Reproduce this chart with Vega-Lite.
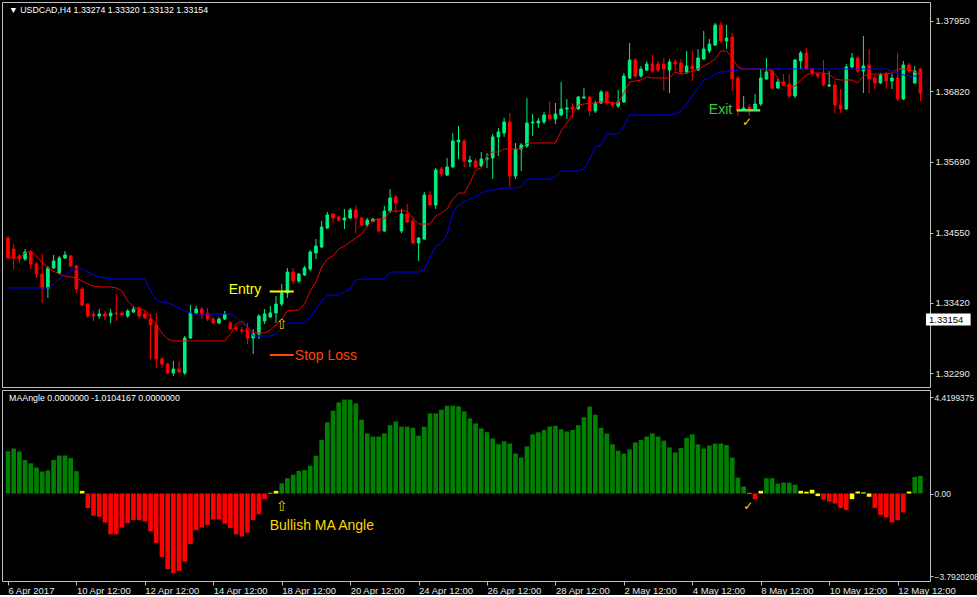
{
  "$schema": "https://vega.github.io/schema/vega-lite/v6.json",
  "background": "black",
  "padding": {"left": 1, "top": 1, "right": 0, "bottom": 0},
  "spacing": 1,
  "config": {
    "view": {"stroke": "#c0c0c0", "fill": "black"},
    "axis": {"labelFont": "Liberation Sans", "labelFontSize": 9.5, "labelColor": "#e8e8e8", "tickColor": "#c0c0c0", "domain": false, "grid": false, "title": null, "labelOverlap": false, "labelFlush": false}
  },
  "datasets": {
    "bars": [
      {"bar":0,"o":1.34464,"h":1.34496,"l":1.34126,"c":1.34143,"fast":1.34143,"slow":1.33661,"angle":1.93,"trend":"up"},
      {"bar":1,"o":1.34286,"h":1.34367,"l":1.33965,"c":1.34143,"fast":1.34143,"slow":1.33661,"angle":2.06,"trend":"up"},
      {"bar":2,"o":1.34175,"h":1.34207,"l":1.34062,"c":1.34126,"fast":1.34143,"slow":1.33661,"angle":1.93,"trend":"up"},
      {"bar":3,"o":1.34126,"h":1.34286,"l":1.34094,"c":1.34239,"fast":1.34223,"slow":1.33661,"angle":1.53,"trend":"up"},
      {"bar":4,"o":1.34239,"h":1.34270,"l":1.33965,"c":1.34046,"fast":1.34255,"slow":1.33661,"angle":1.38,"trend":"up"},
      {"bar":5,"o":1.34046,"h":1.34078,"l":1.33821,"c":1.33885,"fast":1.34175,"slow":1.33661,"angle":1.19,"trend":"up"},
      {"bar":6,"o":1.33885,"h":1.34207,"l":1.33419,"c":1.33661,"fast":1.34062,"slow":1.33661,"angle":1.01,"trend":"up"},
      {"bar":7,"o":1.33661,"h":1.34014,"l":1.33500,"c":1.33982,"fast":1.33982,"slow":1.33661,"angle":1.06,"trend":"up"},
      {"bar":8,"o":1.33982,"h":1.34191,"l":1.33965,"c":1.34094,"fast":1.33933,"slow":1.33725,"angle":1.53,"trend":"up"},
      {"bar":9,"o":1.33901,"h":1.34175,"l":1.33885,"c":1.34143,"fast":1.33885,"slow":1.33805,"angle":1.74,"trend":"up"},
      {"bar":10,"o":1.34143,"h":1.34255,"l":1.34126,"c":1.34191,"fast":1.33853,"slow":1.33869,"angle":1.74,"trend":"up"},
      {"bar":11,"o":1.34175,"h":1.34191,"l":1.33998,"c":1.34014,"fast":1.33837,"slow":1.33933,"angle":1.62,"trend":"up"},
      {"bar":12,"o":1.34014,"h":1.34030,"l":1.33580,"c":1.33644,"fast":1.33821,"slow":1.33965,"angle":1.02,"trend":"up"},
      {"bar":13,"o":1.33644,"h":1.33677,"l":1.33371,"c":1.33387,"fast":1.33773,"slow":1.33965,"angle":0.12,"trend":"flat"},
      {"bar":14,"o":1.33403,"h":1.33419,"l":1.33179,"c":1.33211,"fast":1.33725,"slow":1.33917,"angle":-0.67,"trend":"down"},
      {"bar":15,"o":1.33243,"h":1.33291,"l":1.33130,"c":1.33211,"fast":1.33693,"slow":1.33869,"angle":-1.02,"trend":"down"},
      {"bar":16,"o":1.33211,"h":1.33322,"l":1.33162,"c":1.33243,"fast":1.33677,"slow":1.33837,"angle":-1.07,"trend":"down"},
      {"bar":17,"o":1.33243,"h":1.33291,"l":1.33146,"c":1.33211,"fast":1.33677,"slow":1.33821,"angle":-1.33,"trend":"down"},
      {"bar":18,"o":1.33211,"h":1.33322,"l":1.33098,"c":1.33259,"fast":1.33677,"slow":1.33805,"angle":-1.87,"trend":"down"},
      {"bar":19,"o":1.33259,"h":1.33564,"l":1.33130,"c":1.33243,"fast":1.33661,"slow":1.33805,"angle":-1.87,"trend":"down"},
      {"bar":20,"o":1.33259,"h":1.33291,"l":1.33211,"c":1.33227,"fast":1.33612,"slow":1.33805,"angle":-1.56,"trend":"down"},
      {"bar":21,"o":1.33211,"h":1.33322,"l":1.33179,"c":1.33291,"fast":1.33451,"slow":1.33805,"angle":-1.36,"trend":"down"},
      {"bar":22,"o":1.33275,"h":1.33371,"l":1.33259,"c":1.33322,"fast":1.33355,"slow":1.33805,"angle":-1.22,"trend":"down"},
      {"bar":23,"o":1.33339,"h":1.33371,"l":1.33162,"c":1.33211,"fast":1.33322,"slow":1.33805,"angle":-1.22,"trend":"down"},
      {"bar":24,"o":1.33243,"h":1.33291,"l":1.33162,"c":1.33179,"fast":1.33306,"slow":1.33805,"angle":-1.28,"trend":"down"},
      {"bar":25,"o":1.33162,"h":1.33243,"l":1.32519,"c":1.33066,"fast":1.33195,"slow":1.33612,"angle":-1.74,"trend":"down"},
      {"bar":26,"o":1.33066,"h":1.33259,"l":1.32375,"c":1.32519,"fast":1.33066,"slow":1.33467,"angle":-2.26,"trend":"down"},
      {"bar":27,"o":1.32519,"h":1.32552,"l":1.32375,"c":1.32439,"fast":1.32937,"slow":1.33435,"angle":-2.91,"trend":"down"},
      {"bar":28,"o":1.32439,"h":1.32455,"l":1.32279,"c":1.32295,"fast":1.32841,"slow":1.33419,"angle":-3.47,"trend":"down"},
      {"bar":29,"o":1.32295,"h":1.32487,"l":1.32247,"c":1.32358,"fast":1.32809,"slow":1.33387,"angle":-3.65,"trend":"down"},
      {"bar":30,"o":1.32358,"h":1.32487,"l":1.32295,"c":1.32311,"fast":1.32809,"slow":1.33339,"angle":-3.55,"trend":"down"},
      {"bar":31,"o":1.32295,"h":1.32889,"l":1.32263,"c":1.32857,"fast":1.32809,"slow":1.33291,"angle":-3.12,"trend":"down"},
      {"bar":32,"o":1.32857,"h":1.33387,"l":1.32841,"c":1.33259,"fast":1.32809,"slow":1.33259,"angle":-2.32,"trend":"down"},
      {"bar":33,"o":1.33259,"h":1.33371,"l":1.33243,"c":1.33322,"fast":1.32809,"slow":1.33243,"angle":-1.68,"trend":"down"},
      {"bar":34,"o":1.33322,"h":1.33355,"l":1.33162,"c":1.33243,"fast":1.32809,"slow":1.33243,"angle":-1.56,"trend":"down"},
      {"bar":35,"o":1.33259,"h":1.33339,"l":1.33130,"c":1.33162,"fast":1.32809,"slow":1.33243,"angle":-1.44,"trend":"down"},
      {"bar":36,"o":1.33162,"h":1.33195,"l":1.33082,"c":1.33098,"fast":1.32809,"slow":1.33243,"angle":-1.19,"trend":"down"},
      {"bar":37,"o":1.33098,"h":1.33195,"l":1.33082,"c":1.33162,"fast":1.32809,"slow":1.33243,"angle":-1.19,"trend":"down"},
      {"bar":38,"o":1.33162,"h":1.33291,"l":1.33146,"c":1.33243,"fast":1.32809,"slow":1.33243,"angle":-1.38,"trend":"down"},
      {"bar":39,"o":1.33098,"h":1.33130,"l":1.32985,"c":1.33001,"fast":1.32921,"slow":1.33243,"angle":-1.59,"trend":"down"},
      {"bar":40,"o":1.33018,"h":1.33050,"l":1.32969,"c":1.33001,"fast":1.33082,"slow":1.33195,"angle":-1.87,"trend":"down"},
      {"bar":41,"o":1.32985,"h":1.33034,"l":1.32921,"c":1.32969,"fast":1.33130,"slow":1.33098,"angle":-1.97,"trend":"down"},
      {"bar":42,"o":1.33018,"h":1.33098,"l":1.32761,"c":1.32857,"fast":1.33034,"slow":1.33018,"angle":-1.79,"trend":"down"},
      {"bar":43,"o":1.32857,"h":1.33001,"l":1.32600,"c":1.32921,"fast":1.32937,"slow":1.32889,"angle":-1.22,"trend":"down"},
      {"bar":44,"o":1.32921,"h":1.33243,"l":1.32841,"c":1.33211,"fast":1.32937,"slow":1.32889,"angle":-0.95,"trend":"down"},
      {"bar":45,"o":1.33130,"h":1.33322,"l":1.33082,"c":1.33243,"fast":1.32937,"slow":1.32889,"angle":-0.26,"trend":"down"},
      {"bar":46,"o":1.33195,"h":1.33371,"l":1.33179,"c":1.33259,"fast":1.32985,"slow":1.32889,"angle":0.03,"trend":"flat"},
      {"bar":47,"o":1.33259,"h":1.33532,"l":1.33098,"c":1.33403,"fast":1.33066,"slow":1.32921,"angle":0.12,"trend":"flat"},
      {"bar":48,"o":1.33403,"h":1.33725,"l":1.33371,"c":1.33580,"fast":1.33162,"slow":1.33018,"angle":0.47,"trend":"up"},
      {"bar":49,"o":1.33580,"h":1.33982,"l":1.33500,"c":1.33917,"fast":1.33291,"slow":1.33098,"angle":0.70,"trend":"up"},
      {"bar":50,"o":1.33917,"h":1.33982,"l":1.33725,"c":1.33773,"fast":1.33306,"slow":1.33098,"angle":0.86,"trend":"up"},
      {"bar":51,"o":1.33773,"h":1.33901,"l":1.33741,"c":1.33885,"fast":1.33306,"slow":1.33098,"angle":1.04,"trend":"up"},
      {"bar":52,"o":1.33869,"h":1.34014,"l":1.33853,"c":1.33982,"fast":1.33403,"slow":1.33098,"angle":1.07,"trend":"up"},
      {"bar":53,"o":1.33965,"h":1.34270,"l":1.33933,"c":1.34239,"fast":1.33612,"slow":1.33195,"angle":1.27,"trend":"up"},
      {"bar":54,"o":1.34223,"h":1.34447,"l":1.34126,"c":1.34335,"fast":1.33757,"slow":1.33322,"angle":1.73,"trend":"up"},
      {"bar":55,"o":1.34319,"h":1.34736,"l":1.34303,"c":1.34640,"fast":1.33998,"slow":1.33451,"angle":2.45,"trend":"up"},
      {"bar":56,"o":1.34624,"h":1.34881,"l":1.34608,"c":1.34833,"fast":1.34126,"slow":1.33548,"angle":3.26,"trend":"up"},
      {"bar":57,"o":1.34849,"h":1.34865,"l":1.34704,"c":1.34785,"fast":1.34175,"slow":1.33548,"angle":3.79,"trend":"up"},
      {"bar":58,"o":1.34801,"h":1.34817,"l":1.34720,"c":1.34752,"fast":1.34286,"slow":1.33548,"angle":4.17,"trend":"up"},
      {"bar":59,"o":1.34752,"h":1.34929,"l":1.34608,"c":1.34785,"fast":1.34335,"slow":1.33596,"angle":4.30,"trend":"up"},
      {"bar":60,"o":1.34785,"h":1.34946,"l":1.34768,"c":1.34913,"fast":1.34399,"slow":1.33644,"angle":4.30,"trend":"up"},
      {"bar":61,"o":1.34913,"h":1.34994,"l":1.34544,"c":1.34785,"fast":1.34463,"slow":1.33789,"angle":4.13,"trend":"up"},
      {"bar":62,"o":1.34785,"h":1.34801,"l":1.34640,"c":1.34672,"fast":1.34528,"slow":1.33805,"angle":3.38,"trend":"up"},
      {"bar":63,"o":1.34672,"h":1.34785,"l":1.34640,"c":1.34752,"fast":1.34656,"slow":1.33805,"angle":2.75,"trend":"up"},
      {"bar":64,"o":1.34736,"h":1.34785,"l":1.34720,"c":1.34768,"fast":1.34752,"slow":1.33805,"angle":2.61,"trend":"up"},
      {"bar":65,"o":1.34768,"h":1.34785,"l":1.34560,"c":1.34576,"fast":1.34768,"slow":1.33805,"angle":2.61,"trend":"up"},
      {"bar":66,"o":1.34576,"h":1.34978,"l":1.34560,"c":1.34897,"fast":1.34768,"slow":1.33805,"angle":2.75,"trend":"up"},
      {"bar":67,"o":1.34897,"h":1.35250,"l":1.34865,"c":1.35106,"fast":1.34897,"slow":1.33917,"angle":3.13,"trend":"up"},
      {"bar":68,"o":1.35122,"h":1.35154,"l":1.34865,"c":1.35026,"fast":1.34897,"slow":1.33917,"angle":3.30,"trend":"up"},
      {"bar":69,"o":1.34576,"h":1.34929,"l":1.34544,"c":1.34849,"fast":1.34897,"slow":1.33917,"angle":3.06,"trend":"up"},
      {"bar":70,"o":1.34849,"h":1.35010,"l":1.34704,"c":1.34720,"fast":1.34897,"slow":1.33917,"angle":3.06,"trend":"up"},
      {"bar":71,"o":1.34736,"h":1.34785,"l":1.34367,"c":1.34383,"fast":1.34785,"slow":1.33917,"angle":3.01,"trend":"up"},
      {"bar":72,"o":1.34383,"h":1.34479,"l":1.34094,"c":1.34463,"fast":1.34688,"slow":1.33917,"angle":2.65,"trend":"up"},
      {"bar":73,"o":1.34447,"h":1.35202,"l":1.34431,"c":1.35154,"fast":1.34688,"slow":1.33949,"angle":3.06,"trend":"up"},
      {"bar":74,"o":1.35154,"h":1.35218,"l":1.34978,"c":1.34994,"fast":1.34688,"slow":1.34159,"angle":3.67,"trend":"up"},
      {"bar":75,"o":1.34994,"h":1.35589,"l":1.34929,"c":1.35556,"fast":1.34817,"slow":1.34335,"angle":3.67,"trend":"up"},
      {"bar":76,"o":1.35572,"h":1.35605,"l":1.35444,"c":1.35492,"fast":1.34865,"slow":1.34383,"angle":3.84,"trend":"up"},
      {"bar":77,"o":1.35476,"h":1.35749,"l":1.35460,"c":1.35605,"fast":1.34929,"slow":1.34528,"angle":4.02,"trend":"up"},
      {"bar":78,"o":1.35605,"h":1.36151,"l":1.35589,"c":1.36022,"fast":1.35090,"slow":1.34865,"angle":4.02,"trend":"up"},
      {"bar":79,"o":1.36006,"h":1.36263,"l":1.35732,"c":1.36038,"fast":1.35186,"slow":1.34994,"angle":3.99,"trend":"up"},
      {"bar":80,"o":1.36022,"h":1.36054,"l":1.35605,"c":1.35701,"fast":1.35186,"slow":1.35042,"angle":3.76,"trend":"up"},
      {"bar":81,"o":1.35685,"h":1.35781,"l":1.35605,"c":1.35716,"fast":1.35347,"slow":1.35090,"angle":3.44,"trend":"up"},
      {"bar":82,"o":1.35701,"h":1.35749,"l":1.35589,"c":1.35605,"fast":1.35556,"slow":1.35122,"angle":3.21,"trend":"up"},
      {"bar":83,"o":1.35621,"h":1.35845,"l":1.35605,"c":1.35732,"fast":1.35589,"slow":1.35186,"angle":2.98,"trend":"up"},
      {"bar":84,"o":1.35732,"h":1.35829,"l":1.35589,"c":1.35749,"fast":1.35765,"slow":1.35218,"angle":2.81,"trend":"up"},
      {"bar":85,"o":1.35749,"h":1.36135,"l":1.35411,"c":1.36087,"fast":1.35845,"slow":1.35234,"angle":2.52,"trend":"up"},
      {"bar":86,"o":1.36087,"h":1.36231,"l":1.35781,"c":1.36167,"fast":1.35845,"slow":1.35250,"angle":2.26,"trend":"up"},
      {"bar":87,"o":1.36151,"h":1.36392,"l":1.36087,"c":1.36327,"fast":1.35893,"slow":1.35266,"angle":2.39,"trend":"up"},
      {"bar":88,"o":1.36327,"h":1.36472,"l":1.35283,"c":1.35460,"fast":1.35893,"slow":1.35266,"angle":2.29,"trend":"up"},
      {"bar":89,"o":1.35460,"h":1.35990,"l":1.35411,"c":1.35893,"fast":1.35893,"slow":1.35266,"angle":1.83,"trend":"up"},
      {"bar":90,"o":1.35893,"h":1.35990,"l":1.35540,"c":1.35958,"fast":1.35893,"slow":1.35283,"angle":1.65,"trend":"up"},
      {"bar":91,"o":1.35942,"h":1.36713,"l":1.35910,"c":1.36311,"fast":1.35990,"slow":1.35411,"angle":2.16,"trend":"up"},
      {"bar":92,"o":1.36311,"h":1.36456,"l":1.36103,"c":1.36327,"fast":1.35990,"slow":1.35411,"angle":2.71,"trend":"up"},
      {"bar":93,"o":1.36311,"h":1.36392,"l":1.36231,"c":1.36343,"fast":1.35990,"slow":1.35411,"angle":2.80,"trend":"up"},
      {"bar":94,"o":1.36327,"h":1.36488,"l":1.36295,"c":1.36440,"fast":1.35990,"slow":1.35411,"angle":2.91,"trend":"up"},
      {"bar":95,"o":1.36440,"h":1.36664,"l":1.36375,"c":1.36375,"fast":1.35990,"slow":1.35411,"angle":3.07,"trend":"up"},
      {"bar":96,"o":1.36375,"h":1.36632,"l":1.36295,"c":1.36456,"fast":1.35990,"slow":1.35443,"angle":3.10,"trend":"up"},
      {"bar":97,"o":1.36440,"h":1.36970,"l":1.36424,"c":1.36536,"fast":1.36183,"slow":1.35540,"angle":2.94,"trend":"up"},
      {"bar":98,"o":1.36536,"h":1.36696,"l":1.36375,"c":1.36552,"fast":1.36311,"slow":1.35540,"angle":2.84,"trend":"up"},
      {"bar":99,"o":1.36568,"h":1.36632,"l":1.36392,"c":1.36536,"fast":1.36456,"slow":1.35540,"angle":2.91,"trend":"up"},
      {"bar":100,"o":1.36536,"h":1.36745,"l":1.36520,"c":1.36729,"fast":1.36600,"slow":1.35540,"angle":3.13,"trend":"up"},
      {"bar":101,"o":1.36713,"h":1.36873,"l":1.36697,"c":1.36729,"fast":1.36616,"slow":1.35572,"angle":3.49,"trend":"up"},
      {"bar":102,"o":1.36729,"h":1.36745,"l":1.36424,"c":1.36504,"fast":1.36632,"slow":1.35732,"angle":3.98,"trend":"up"},
      {"bar":103,"o":1.36504,"h":1.36664,"l":1.36472,"c":1.36632,"fast":1.36632,"slow":1.35925,"angle":3.61,"trend":"up"},
      {"bar":104,"o":1.36632,"h":1.36841,"l":1.36616,"c":1.36809,"fast":1.36648,"slow":1.35958,"angle":3.01,"trend":"up"},
      {"bar":105,"o":1.36809,"h":1.36825,"l":1.36600,"c":1.36632,"fast":1.36648,"slow":1.36135,"angle":2.75,"trend":"up"},
      {"bar":106,"o":1.36632,"h":1.36664,"l":1.36568,"c":1.36600,"fast":1.36632,"slow":1.36135,"angle":2.25,"trend":"up"},
      {"bar":107,"o":1.36584,"h":1.36841,"l":1.36552,"c":1.36648,"fast":1.36632,"slow":1.36135,"angle":1.96,"trend":"up"},
      {"bar":108,"o":1.36648,"h":1.37114,"l":1.36632,"c":1.37066,"fast":1.36793,"slow":1.36247,"angle":1.83,"trend":"up"},
      {"bar":109,"o":1.37034,"h":1.37596,"l":1.37018,"c":1.37323,"fast":1.36970,"slow":1.36440,"angle":2.02,"trend":"up"},
      {"bar":110,"o":1.37323,"h":1.37355,"l":1.37034,"c":1.37066,"fast":1.36986,"slow":1.36440,"angle":2.34,"trend":"up"},
      {"bar":111,"o":1.37066,"h":1.37227,"l":1.37034,"c":1.37178,"fast":1.37002,"slow":1.36440,"angle":2.45,"trend":"up"},
      {"bar":112,"o":1.37162,"h":1.37307,"l":1.37146,"c":1.37259,"fast":1.37050,"slow":1.36440,"angle":2.61,"trend":"up"},
      {"bar":113,"o":1.37259,"h":1.37404,"l":1.37114,"c":1.37146,"fast":1.37034,"slow":1.36440,"angle":2.75,"trend":"up"},
      {"bar":114,"o":1.37259,"h":1.37307,"l":1.37130,"c":1.37162,"fast":1.37034,"slow":1.36440,"angle":2.61,"trend":"up"},
      {"bar":115,"o":1.37259,"h":1.37355,"l":1.36825,"c":1.37178,"fast":1.37034,"slow":1.36440,"angle":2.42,"trend":"up"},
      {"bar":116,"o":1.37162,"h":1.37339,"l":1.36793,"c":1.37291,"fast":1.37034,"slow":1.36440,"angle":2.11,"trend":"up"},
      {"bar":117,"o":1.37291,"h":1.37339,"l":1.37146,"c":1.37259,"fast":1.37130,"slow":1.36456,"angle":1.88,"trend":"up"},
      {"bar":118,"o":1.37275,"h":1.37339,"l":1.37098,"c":1.37130,"fast":1.37098,"slow":1.36504,"angle":2.08,"trend":"up"},
      {"bar":119,"o":1.37130,"h":1.37468,"l":1.37098,"c":1.37227,"fast":1.37114,"slow":1.36616,"angle":2.55,"trend":"up"},
      {"bar":120,"o":1.37227,"h":1.37468,"l":1.36986,"c":1.37178,"fast":1.37146,"slow":1.36745,"angle":2.71,"trend":"up"},
      {"bar":121,"o":1.37162,"h":1.37500,"l":1.37146,"c":1.37355,"fast":1.37178,"slow":1.36873,"angle":2.25,"trend":"up"},
      {"bar":122,"o":1.37339,"h":1.37789,"l":1.37323,"c":1.37500,"fast":1.37227,"slow":1.37002,"angle":2.06,"trend":"up"},
      {"bar":123,"o":1.37468,"h":1.37660,"l":1.37436,"c":1.37580,"fast":1.37275,"slow":1.37034,"angle":2.20,"trend":"up"},
      {"bar":124,"o":1.37564,"h":1.37918,"l":1.37548,"c":1.37886,"fast":1.37339,"slow":1.37098,"angle":2.29,"trend":"up"},
      {"bar":125,"o":1.37886,"h":1.37934,"l":1.37596,"c":1.37628,"fast":1.37468,"slow":1.37130,"angle":2.29,"trend":"up"},
      {"bar":126,"o":1.37628,"h":1.37886,"l":1.37500,"c":1.37677,"fast":1.37468,"slow":1.37146,"angle":2.22,"trend":"up"},
      {"bar":127,"o":1.37693,"h":1.37757,"l":1.36825,"c":1.37018,"fast":1.37355,"slow":1.37146,"angle":1.65,"trend":"up"},
      {"bar":128,"o":1.37034,"h":1.37066,"l":1.36424,"c":1.36504,"fast":1.37211,"slow":1.37162,"angle":0.73,"trend":"up"},
      {"bar":129,"o":1.36520,"h":1.36745,"l":1.36504,"c":1.36552,"fast":1.37178,"slow":1.37178,"angle":0.32,"trend":"up"},
      {"bar":130,"o":1.36568,"h":1.36616,"l":1.36424,"c":1.36536,"fast":1.37178,"slow":1.37178,"angle":0.03,"trend":"flat"},
      {"bar":131,"o":1.36536,"h":1.36777,"l":1.36520,"c":1.36616,"fast":1.37178,"slow":1.37178,"angle":-0.26,"trend":"down"},
      {"bar":132,"o":1.36616,"h":1.37194,"l":1.36584,"c":1.37034,"fast":1.37178,"slow":1.37178,"angle":0.12,"trend":"flat"},
      {"bar":133,"o":1.37018,"h":1.37355,"l":1.37002,"c":1.37130,"fast":1.37162,"slow":1.37178,"angle":0.70,"trend":"up"},
      {"bar":134,"o":1.37146,"h":1.37178,"l":1.36857,"c":1.36873,"fast":1.37146,"slow":1.37178,"angle":0.70,"trend":"up"},
      {"bar":135,"o":1.36873,"h":1.37018,"l":1.36857,"c":1.36970,"fast":1.37034,"slow":1.37178,"angle":0.46,"trend":"up"},
      {"bar":136,"o":1.36970,"h":1.37098,"l":1.36905,"c":1.36922,"fast":1.36905,"slow":1.37178,"angle":0.50,"trend":"up"},
      {"bar":137,"o":1.36938,"h":1.37098,"l":1.36713,"c":1.36745,"fast":1.36905,"slow":1.37178,"angle":0.50,"trend":"up"},
      {"bar":138,"o":1.36745,"h":1.37339,"l":1.36713,"c":1.37323,"fast":1.36905,"slow":1.37178,"angle":0.40,"trend":"up"},
      {"bar":139,"o":1.37307,"h":1.37468,"l":1.37178,"c":1.37436,"fast":1.37002,"slow":1.37178,"angle":0.12,"trend":"flat"},
      {"bar":140,"o":1.37436,"h":1.37516,"l":1.37162,"c":1.37178,"fast":1.37082,"slow":1.37178,"angle":0.08,"trend":"flat"},
      {"bar":141,"o":1.37178,"h":1.37194,"l":1.37066,"c":1.37114,"fast":1.37114,"slow":1.37178,"angle":0.17,"trend":"flat"},
      {"bar":142,"o":1.37098,"h":1.37114,"l":1.37018,"c":1.37066,"fast":1.37114,"slow":1.37178,"angle":-0.12,"trend":"flat"},
      {"bar":143,"o":1.37098,"h":1.37323,"l":1.36905,"c":1.36922,"fast":1.37114,"slow":1.37178,"angle":-0.28,"trend":"down"},
      {"bar":144,"o":1.36905,"h":1.37146,"l":1.36890,"c":1.36922,"fast":1.37098,"slow":1.37178,"angle":-0.37,"trend":"down"},
      {"bar":145,"o":1.36922,"h":1.36986,"l":1.36472,"c":1.36600,"fast":1.37018,"slow":1.37178,"angle":-0.46,"trend":"down"},
      {"bar":146,"o":1.36600,"h":1.36857,"l":1.36472,"c":1.36536,"fast":1.37002,"slow":1.37178,"angle":-0.67,"trend":"down"},
      {"bar":147,"o":1.36536,"h":1.37259,"l":1.36520,"c":1.37211,"fast":1.37002,"slow":1.37178,"angle":-0.76,"trend":"down"},
      {"bar":148,"o":1.37211,"h":1.37436,"l":1.37194,"c":1.37355,"fast":1.37002,"slow":1.37178,"angle":-0.26,"trend":"flat"},
      {"bar":149,"o":1.37355,"h":1.37388,"l":1.37114,"c":1.37146,"fast":1.36954,"slow":1.37178,"angle":0.09,"trend":"flat"},
      {"bar":150,"o":1.37146,"h":1.37709,"l":1.36793,"c":1.37227,"fast":1.37066,"slow":1.37178,"angle":0.05,"trend":"flat"},
      {"bar":151,"o":1.37243,"h":1.37500,"l":1.36793,"c":1.37018,"fast":1.37098,"slow":1.37178,"angle":-0.15,"trend":"flat"},
      {"bar":152,"o":1.37034,"h":1.37082,"l":1.36857,"c":1.36954,"fast":1.37098,"slow":1.37178,"angle":-0.67,"trend":"down"},
      {"bar":153,"o":1.36954,"h":1.37114,"l":1.36938,"c":1.37082,"fast":1.37098,"slow":1.37178,"angle":-0.98,"trend":"down"},
      {"bar":154,"o":1.37098,"h":1.37130,"l":1.36857,"c":1.36986,"fast":1.37098,"slow":1.37178,"angle":-1.10,"trend":"down"},
      {"bar":155,"o":1.36986,"h":1.37098,"l":1.36857,"c":1.37034,"fast":1.37114,"slow":1.37146,"angle":-1.33,"trend":"down"},
      {"bar":156,"o":1.37034,"h":1.37436,"l":1.36664,"c":1.36697,"fast":1.37178,"slow":1.37114,"angle":-1.22,"trend":"down"},
      {"bar":157,"o":1.36697,"h":1.37307,"l":1.36680,"c":1.37243,"fast":1.37178,"slow":1.37082,"angle":-0.87,"trend":"down"},
      {"bar":158,"o":1.37243,"h":1.37275,"l":1.37114,"c":1.37146,"fast":1.37178,"slow":1.37066,"angle":0.09,"trend":"flat"},
      {"bar":159,"o":1.36954,"h":1.37227,"l":1.36938,"c":1.37146,"fast":1.37130,"slow":1.37066,"angle":0.76,"trend":"up"},
      {"bar":160,"o":1.37178,"h":1.37194,"l":1.36664,"c":1.36793,"fast":1.37082,"slow":1.37066,"angle":0.81,"trend":"up"}
    ]
  },
  "vconcat": [
    {
      "width": 928,
      "height": 385,
      "layer": [
        {
          "data": {"name": "bars"},
          "mark": {"type": "rule", "strokeWidth": 1},
          "encoding": {
            "x": {"field": "bar", "type": "quantitative", "scale": {"domain": [-0.17, 160.8], "nice": false, "zero": false}, "axis": null},
            "y": {"field": "l", "type": "quantitative", "scale": {"domain": [1.3207, 1.38255], "nice": false, "zero": false},
                  "axis": {"orient": "right", "values": [1.3795, 1.3738, 1.3682, 1.3625, 1.3569, 1.3512, 1.3455, 1.3399, 1.3342, 1.3286, 1.3229], "format": ".5f", "tickSize": 3, "labelPadding": 2, "labelBaseline": "middle"}},
            "y2": {"field": "h"},
            "color": {"condition": {"test": "datum.c >= datum.o", "value": "#00f080"}, "value": "#ff0000"}
          }
        },
        {
          "data": {"name": "bars"},
          "mark": {"type": "bar", "width": 2.6, "strokeWidth": 1},
          "encoding": {
            "x": {"field": "bar", "type": "quantitative"},
            "y": {"field": "o", "type": "quantitative"},
            "y2": {"field": "c"},
            "color": {"condition": {"test": "datum.c >= datum.o", "value": "#00f080"}, "value": "#ff0000"},
            "stroke": {"condition": {"test": "datum.c >= datum.o", "value": "#00f080"}, "value": "#ff0000"}
          }
        },
        {
          "data": {"name": "bars"},
          "mark": {"type": "line", "color": "#ee0000", "strokeWidth": 1},
          "encoding": {
            "x": {"field": "bar", "type": "quantitative"},
            "y": {"field": "fast", "type": "quantitative"}
          }
        },
        {
          "data": {"name": "bars"},
          "mark": {"type": "line", "color": "#0000ff", "strokeWidth": 1},
          "encoding": {
            "x": {"field": "bar", "type": "quantitative"},
            "y": {"field": "slow", "type": "quantitative"}
          }
        },
        {
          "data": {"values": [{"from": 45.9, "to": 50.1, "price": 1.33604}]},
          "mark": {"type": "rule", "color": "#ffff00", "strokeWidth": 2},
          "encoding": {"x": {"field": "from", "type": "quantitative"}, "x2": {"field": "to"}, "y": {"field": "price", "type": "quantitative"}}
        },
        {
          "data": {"values": [{"from": 45.9, "to": 50.1, "price": 1.32584}]},
          "mark": {"type": "rule", "color": "#ff4500", "strokeWidth": 2},
          "encoding": {"x": {"field": "from", "type": "quantitative"}, "x2": {"field": "to"}, "y": {"field": "price", "type": "quantitative"}}
        },
        {
          "data": {"values": [{"from": 127.8, "to": 131.9, "price": 1.36515}]},
          "mark": {"type": "rule", "color": "#5ee05e", "strokeWidth": 2.5},
          "encoding": {"x": {"field": "from", "type": "quantitative"}, "x2": {"field": "to"}, "y": {"field": "price", "type": "quantitative"}}
        },
        {
          "data": {"values": [{"bar": 38.7, "price": 1.33628, "label": "Entry"}]},
          "mark": {"type": "text", "align": "left", "baseline": "middle", "font": "Liberation Sans", "fontSize": 14, "color": "#ffff00"},
          "encoding": {"x": {"field": "bar", "type": "quantitative"}, "y": {"field": "price", "type": "quantitative"}, "text": {"field": "label"}}
        },
        {
          "data": {"values": [{"bar": 50.3, "price": 1.32568, "label": "Stop Loss"}]},
          "mark": {"type": "text", "align": "left", "baseline": "middle", "font": "Liberation Sans", "fontSize": 14, "color": "#ff4500"},
          "encoding": {"x": {"field": "bar", "type": "quantitative"}, "y": {"field": "price", "type": "quantitative"}, "text": {"field": "label"}}
        },
        {
          "data": {"values": [{"bar": 122.9, "price": 1.36528, "label": "Exit"}]},
          "mark": {"type": "text", "align": "left", "baseline": "middle", "font": "Liberation Sans", "fontSize": 14, "color": "#3cc83c"},
          "encoding": {"x": {"field": "bar", "type": "quantitative"}, "y": {"field": "price", "type": "quantitative"}, "text": {"field": "label"}}
        },
        {
          "data": {"values": [{"bar": 129.6, "price": 1.36327, "label": "✓"}]},
          "mark": {"type": "text", "align": "center", "baseline": "middle", "font": "DejaVu Sans", "fontSize": 12, "color": "#ffd700"},
          "encoding": {"x": {"field": "bar", "type": "quantitative"}, "y": {"field": "price", "type": "quantitative"}, "text": {"field": "label"}}
        },
        {
          "data": {"values": [{"bar": 48.0, "price": 1.33074, "label": "⇧"}]},
          "mark": {"type": "text", "align": "center", "baseline": "middle", "font": "DejaVu Sans", "fontSize": 14, "color": "#e6c000"},
          "encoding": {"x": {"field": "bar", "type": "quantitative"}, "y": {"field": "price", "type": "quantitative"}, "text": {"field": "label"}}
        },
        {
          "data": {"values": [{"bar": 0.2, "price": 1.38126, "label": "▼ USDCAD,H4  1.33274 1.33320 1.33132 1.33154"}]},
          "mark": {"type": "text", "align": "left", "baseline": "middle", "font": "Liberation Sans", "fontSize": 8.8, "color": "#ffffff"},
          "encoding": {"x": {"field": "bar", "type": "quantitative"}, "y": {"field": "price", "type": "quantitative"}, "text": {"field": "label"}}
        },
        {
          "data": {"values": [{"from": 160.97, "to": 168.8, "top": 1.33251, "bottom": 1.33058}]},
          "mark": {"type": "rect", "color": "#ffffff"},
          "encoding": {"x": {"field": "from", "type": "quantitative"}, "x2": {"field": "to"}, "y": {"field": "top", "type": "quantitative"}, "y2": {"field": "bottom"}}
        },
        {
          "data": {"values": [{"bar": 161.5, "price": 1.33154, "label": "1.33154"}]},
          "mark": {"type": "text", "align": "left", "baseline": "middle", "font": "Liberation Sans", "fontSize": 9.5, "color": "#000000"},
          "encoding": {"x": {"field": "bar", "type": "quantitative"}, "y": {"field": "price", "type": "quantitative"}, "text": {"field": "label"}}
        }
      ]
    },
    {
      "width": 928,
      "height": 191,
      "layer": [
        {
          "data": {"name": "bars"},
          "mark": {"type": "bar", "width": 4.6},
          "encoding": {
            "x": {"field": "bar", "type": "quantitative", "scale": {"domain": [-0.17, 160.8], "nice": false, "zero": false},
                  "axis": {"orient": "bottom", "values": [0, 12, 24, 36, 48, 60, 72, 84, 96, 108, 120, 132, 144, 156], "labelExpr": "['6 Apr 2017','10 Apr 12:00','12 Apr 12:00','14 Apr 12:00','18 Apr 12:00','20 Apr 12:00','24 Apr 12:00','26 Apr 12:00','28 Apr 12:00','2 May 12:00','4 May 12:00','8 May 12:00','10 May 12:00','12 May 12:00'][round(datum.value / 12)]", "labelAlign": "left", "labelBaseline": "top", "tickSize": 4, "labelPadding": 0}},
            "y": {"field": "angle", "type": "quantitative", "scale": {"domain": [-4.008, 4.741], "nice": false, "zero": false},
                  "axis": {"orient": "right", "values": [4.4199375, 0, -3.7920208], "labelExpr": "datum.value == 0 ? '0.00' : format(datum.value, '.7f')", "labelFontSize": 8.4, "tickSize": 3, "labelPadding": 1, "labelBaseline": "middle"}},
            "y2": {"datum": 0},
            "color": {"field": "trend", "type": "nominal", "scale": {"domain": ["up", "down", "flat"], "range": ["#008000", "#ff0000", "#ffff00"]}, "legend": null}
          }
        },
        {
          "data": {"values": [{"bar": 0.2, "angle": 4.36, "label": "MAAngle 0.0000000 -1.0104167 0.0000000"}]},
          "mark": {"type": "text", "align": "left", "baseline": "middle", "font": "Liberation Sans", "fontSize": 8.8, "color": "#ffffff"},
          "encoding": {"x": {"field": "bar", "type": "quantitative"}, "y": {"field": "angle", "type": "quantitative"}, "text": {"field": "label"}}
        },
        {
          "data": {"values": [{"bar": 45.9, "angle": -1.49, "label": "Bullish MA Angle"}]},
          "mark": {"type": "text", "align": "left", "baseline": "middle", "font": "Liberation Sans", "fontSize": 14, "color": "#ffd700"},
          "encoding": {"x": {"field": "bar", "type": "quantitative"}, "y": {"field": "angle", "type": "quantitative"}, "text": {"field": "label"}}
        },
        {
          "data": {"values": [{"bar": 48.0, "angle": -0.6, "label": "⇧"}]},
          "mark": {"type": "text", "align": "center", "baseline": "middle", "font": "DejaVu Sans", "fontSize": 14, "color": "#e6c000"},
          "encoding": {"x": {"field": "bar", "type": "quantitative"}, "y": {"field": "angle", "type": "quantitative"}, "text": {"field": "label"}}
        },
        {
          "data": {"values": [{"bar": 129.8, "angle": -0.57, "label": "✓"}]},
          "mark": {"type": "text", "align": "center", "baseline": "middle", "font": "DejaVu Sans", "fontSize": 12, "color": "#ffd700"},
          "encoding": {"x": {"field": "bar", "type": "quantitative"}, "y": {"field": "angle", "type": "quantitative"}, "text": {"field": "label"}}
        }
      ]
    }
  ]
}
